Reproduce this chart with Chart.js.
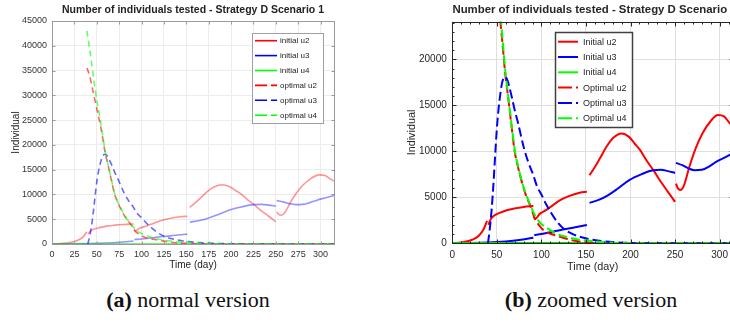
<!DOCTYPE html>
<html>
<head>
<meta charset="utf-8">
<script src="https://cdn.jsdelivr.net/npm/chart.js@4.4.0/dist/chart.umd.min.js"></script>
<style>
html, body { margin: 0; padding: 0; background: #fff; width: 730px; height: 324px; overflow: hidden; }
canvas { position: absolute; top: 0; }
#chartA { left: 0; }
#chartB { left: 365px; }
.cap { position: absolute; top: 289px; line-height: 22px; font-family: "Liberation Serif", "Times New Roman", serif; font-size: 22px; color: #111; white-space: nowrap; transform: translateX(-50%); }
</style>
</head>
<body>
<canvas id="chartA" width="365" height="282"></canvas>
<canvas id="chartB" width="372" height="282"></canvas>
<div class="cap" style="left:188px"><b>(a)</b> normal version</div>
<div class="cap" style="left:591px"><b>(b)</b> zoomed version</div>
<script>
// values (null = break between segments)
const tInitU2 = [0,10,20,25,30,35,39,39.7,40.5,43,46,53,61,70,80,91,91.2,91.5,93,98,105,113,121,130,143,151,152.5,154,160,166,173,181,190,198,205,211,218,226,234,242,250,250.5,251,253,256,260,266,273,281,290,298,305,311,315];
const initU2 = [0,100,300,500,850,1500,2450,null,2000,2600,2950,3300,3600,3800,3950,4050,null,2900,2650,3200,3600,4150,4700,5100,5500,5600,null,7400,8300,9300,10500,11500,11950,11600,10800,10100,9000,7900,6700,5600,4500,null,6500,6000,5800,6300,8300,10300,12000,13300,13950,13800,13100,12700];

const tInitU3 = [0,20,40,60,75,91,91.5,92,100,110,124,138,151,152.5,154,165,175,185,199,212,225,234,242,250,250.5,251,258,265,272,280,288,296,305,315];
const initU3 = [0,20,80,200,350,600,null,900,1000,1200,1500,1750,2000,null,4400,4750,5250,5900,6900,7500,7950,8000,7850,7650,null,8750,8500,8150,7950,8000,8350,8850,9300,9800];

const tInitU4 = [0,315];
const initU4 = [0,0];

const tOptU2 = [39,42,45,48,51,54,57,59,63,67,70,73,76,82,87,90,93,97,100,105,113,121,136,150,165,180,315];
const optU2 = [35500,34000,31500,29000,26500,24000,21000,18800,15600,12300,10000,8600,7400,5400,4200,3400,2600,2000,1650,1250,950,700,300,120,40,0,0];

const tOptU3 = [40,42,44,46,48,50,52,54,56,59,62,64,67,70,74,80,85,91,95,100,105,111,118,126,134,145,155,165,180,200,220,315];
const optU3 = [0,1500,3500,6200,9400,12500,14700,16300,17500,18100,17700,17000,15800,14500,13000,10500,8900,7400,6200,5300,4300,3300,2300,1500,1050,650,430,280,130,40,0,0];

const tOptU4 = [39,42,45,48,51,54,57,59,63,67,70,76,82,87,90,93,97,100,105,112,119,130,140,154,170,190,210,315];
const optU4 = [43000,39500,35500,31500,28000,25000,21500,19200,15800,12500,10200,7500,5500,4300,3600,3000,2400,2100,1750,1300,950,650,430,280,120,30,0,0];

// tick labels
const xTicksA = [0,25,50,75,100,125,150,175,200,225,250,275,300];
const yTicksA = [0,5000,10000,15000,20000,25000,30000,35000,40000,45000];
const xTicksB = [0,50,100,150,200,250,300];
const yTicksB = [0,5000,10000,15000,20000];

const titleText = "Number of individuals tested - Strategy D Scenario 1";

Chart.defaults.font.family = '"Liberation Sans", Arial, sans-serif';

function pts(ts, vs) {
    return ts.map((t, i) => ({ x: t, y: vs[i] }));
}

// draws box, inner tick marks, title, axis names and legend
const framePlugin = {
    id: "frame",
    afterDraw(chart, args, o) {
        const { ctx, chartArea: a, scales: { x, y } } = chart;
        ctx.save();
        ctx.strokeStyle = o.boxColor;
        ctx.lineWidth = 1;
        const L = Math.round(a.left) + 0.5, R = Math.round(a.right) + 0.5;
        const T = Math.round(a.top) + 0.5, B = Math.round(a.bottom) + 0.5;
        ctx.beginPath();
        const marks = (step, max, len, horiz) => {
            for (let v = 0; v <= max + 1e-6; v += step) {
                if (horiz) {
                    const px = Math.round(x.getPixelForValue(v)) + 0.5;
                    ctx.moveTo(px, B); ctx.lineTo(px, B - len);
                    ctx.moveTo(px, T); ctx.lineTo(px, T + len);
                } else {
                    const py = Math.round(y.getPixelForValue(v)) + 0.5;
                    ctx.moveTo(L, py); ctx.lineTo(L + len, py);
                    ctx.moveTo(R, py); ctx.lineTo(R - len, py);
                }
            }
        };
        marks(o.xStep, x.max, o.tickLen, true);
        marks(o.yStep, y.max, o.tickLen, false);
        if (o.xMinor) marks(o.xMinor, x.max, o.minorLen, true);
        if (o.yMinor) marks(o.yMinor, y.max, o.minorLen, false);
        ctx.stroke();
        ctx.strokeRect(L, T, R - L, B - T);

        ctx.fillStyle = o.textColor;
        ctx.textAlign = "center";
        ctx.textBaseline = "middle";
        ctx.font = o.titleFont;
        ctx.fillText(titleText, o.titleX, o.titleY);
        ctx.font = o.labelFont;
        ctx.fillText("Time (day)", (a.left + a.right) / 2, o.xLabelY);
        ctx.save();
        ctx.translate(o.yLabelX, (a.top + a.bottom) / 2);
        ctx.rotate(-Math.PI / 2);
        ctx.fillText("Individual", 0, 0);
        ctx.restore();

        const lg = o.legend;
        ctx.fillStyle = "#fff";
        ctx.fillRect(lg.x, lg.y, lg.w, lg.h);
        ctx.lineWidth = lg.borderWidth;
        ctx.strokeStyle = lg.border;
        ctx.strokeRect(lg.x + 0.5, lg.y + 0.5, lg.w, lg.h);
        ctx.font = lg.font;
        ctx.textAlign = "left";
        lg.items.forEach((it, i) => {
            const yy = lg.row0 + i * lg.step;
            ctx.strokeStyle = it.color;
            ctx.lineWidth = lg.lineWidth;
            ctx.setLineDash(it.dash);
            ctx.beginPath();
            ctx.moveTo(lg.sx0, yy); ctx.lineTo(lg.sx1, yy);
            ctx.stroke();
            ctx.setLineDash([]);
            ctx.fillStyle = o.textColor;
            ctx.fillText(it.label, lg.tx, yy + 0.5);
        });
        ctx.restore();
    }
};

function makeDatasets(alphaInit, alphaOpt, width, dash) {
    const c = (r, g, b, al) => `rgba(${r},${g},${b},${al})`;
    return [
        { data: pts(tInitU2, initU2), borderColor: c(255,0,0,alphaInit), borderWidth: width, order: 6 },
        { data: pts(tInitU3, initU3), borderColor: c(0,0,255,alphaInit), borderWidth: width, order: 5 },
        { data: pts(tInitU4, initU4), borderColor: c(0,220,0,Math.min(1, alphaInit + 0.1)), borderWidth: width + 0.5, order: 4 },
        { data: pts(tOptU2, optU2), borderColor: c(255,0,0,alphaOpt), borderWidth: width, borderDash: dash, order: 3 },
        { data: pts(tOptU3, optU3), borderColor: c(0,0,255,alphaOpt), borderWidth: width, borderDash: dash, order: 2 },
        { data: pts(tOptU4, optU4), borderColor: c(0,255,0,alphaOpt), borderWidth: width, borderDash: dash, order: 1 }
    ];
}

function makeChart(id, cfg) {
    return new Chart(document.getElementById(id), {
        type: "line",
        data: { datasets: makeDatasets(cfg.alphaInit, cfg.alphaOpt, cfg.width, cfg.dash) },
        options: {
            responsive: false,
            animation: false,
            layout: { padding: { left: 0, top: cfg.top, right: cfg.right, bottom: 0 } },
            elements: { point: { radius: 0 }, line: { cubicInterpolationMode: "monotone" } },
            plugins: { legend: { display: false }, title: { display: false }, tooltip: { enabled: false }, frame: cfg.frame },
            scales: {
                x: {
                    type: "linear", min: 0, max: 315,
                    afterFit: s => { s.height = cfg.xHeight; },
                    afterBuildTicks: s => { s.ticks = cfg.xTicks.map(v => ({ value: v })); },
                    grid: { color: cfg.gridColor, drawTicks: false },
                    border: { display: false },
                    ticks: { padding: cfg.xPad, color: cfg.tickColor, font: { size: cfg.tickSize }, maxRotation: 0, autoSkip: false, callback: v => String(v) }
                },
                y: {
                    min: 0, max: cfg.yMax,
                    afterFit: s => { s.width = cfg.yWidth; },
                    afterBuildTicks: s => { s.ticks = cfg.yTicks.map(v => ({ value: v })); },
                    grid: { color: cfg.gridColor, drawTicks: false },
                    border: { display: false },
                    ticks: { padding: cfg.yPad, color: cfg.tickColor, font: { size: cfg.tickSize }, autoSkip: false, callback: v => String(v) }
                }
            }
        },
        plugins: [framePlugin]
    });
}

// (a) normal version
makeChart("chartA", {
    alphaInit: 0.42, alphaOpt: 0.6, width: 1.6, dash: [6, 4],
    top: 21, right: 31, xHeight: 38, yWidth: 52, yMax: 45000,
    xTicks: xTicksA, yTicks: yTicksA, xPad: 5, yPad: 5,
    gridColor: "#ececec", tickColor: "#333", tickSize: 9,
    frame: {
        boxColor: "#9a9a9a", textColor: "#222", tickLen: 3, minorLen: 0,
        xStep: 25, yStep: 5000,
        titleFont: 'bold 10.5px "Liberation Sans", Arial, sans-serif', titleX: 193, titleY: 10,
        labelFont: '10px "Liberation Sans", Arial, sans-serif', xLabelY: 265, yLabelX: 16,
        legend: {
            x: 252, y: 33, w: 71, h: 90, border: "#a0a0a0", borderWidth: 1,
            row0: 40.7, step: 14.9, sx0: 255, sx1: 277, tx: 280, lineWidth: 1.6,
            font: '8px "Liberation Sans", Arial, sans-serif',
            items: [
                { label: "initial u2", color: "#ff0000", dash: [] },
                { label: "initial u3", color: "#0000ff", dash: [] },
                { label: "initial u4", color: "#00ff00", dash: [] },
                { label: "optimal u2", color: "#ff0000", dash: [12, 4] },
                { label: "optimal u3", color: "#0000ff", dash: [12, 4] },
                { label: "optimal u4", color: "#00ff00", dash: [12, 4] }
            ]
        }
    }
});

// (b) zoomed version
makeChart("chartB", {
    alphaInit: 1, alphaOpt: 1, width: 2, dash: [9, 4],
    top: 21.7, right: 4, xHeight: 38.7, yWidth: 87.3, yMax: 24100,
    xTicks: xTicksB, yTicks: yTicksB, xPad: 6, yPad: 5.5,
    gridColor: "#dfdfdf", tickColor: "#262626", tickSize: 10,
    frame: {
        boxColor: "#262626", textColor: "#262626", tickLen: 4, minorLen: 2,
        xStep: 50, yStep: 5000, xMinor: 10, yMinor: 1000,
        titleFont: 'bold 11.4px "Liberation Sans", Arial, sans-serif', titleX: 229.5, titleY: 9.5,
        labelFont: '10.8px "Liberation Sans", Arial, sans-serif', xLabelY: 266.7, yLabelX: 47.5,
        legend: {
            x: 190, y: 32, w: 77, h: 95, border: "#404040", borderWidth: 1.5,
            row0: 41.7, step: 15.3, sx0: 193, sx1: 213, tx: 218, lineWidth: 2,
            font: '9px "Liberation Sans", Arial, sans-serif',
            items: [
                { label: "Initial u2", color: "#ff0000", dash: [] },
                { label: "Initial u3", color: "#0000ff", dash: [] },
                { label: "Initial u4", color: "#00ff00", dash: [] },
                { label: "Optimal u2", color: "#ff0000", dash: [14, 4] },
                { label: "Optimal u3", color: "#0000ff", dash: [14, 4] },
                { label: "Optimal u4", color: "#00ff00", dash: [14, 4] }
            ]
        }
    }
});
</script>
</body>
</html>
